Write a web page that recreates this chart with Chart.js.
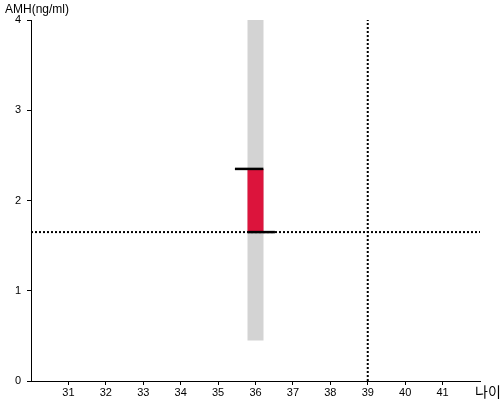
<!DOCTYPE html>
<html>
<head>
<meta charset="utf-8">
<script src="https://cdn.jsdelivr.net/npm/chart.js@4/dist/chart.umd.min.js"></script>
<style>
html,body{margin:0;padding:0;background:#fff;}
#wrap{width:500px;height:400px;position:relative;}
</style>
</head>
<body>
<div id="wrap"><canvas id="c" width="500" height="400"></canvas></div>
<script>
// Data
const ageCenter = 36;
const rangeLow = 0.45;      // gray normal range bottom
const rangeHigh = 4;        // gray normal range top
const amhValue = 2.35;      // measured AMH
const refValue = 1.65;      // reference AMH (horizontal dotted line)
const refAge = 39;          // reference age (vertical dotted line)
const topMarkX = [35.45, 36.21];
const bottomMarkX = [35.79, 36.52];
const xTicks = [31, 32, 33, 34, 35, 36, 37, 38, 39, 40, 41];
const yTicks = [0, 1, 2, 3, 4];
const xTitle = '나이';
const yTitle = 'AMH(ng/ml)';

const labelPlugin = {
  id: 'titles',
  afterDraw(chart) {
    const ctx = chart.ctx;
    ctx.save();
    ctx.fillStyle = '#000';
    ctx.font = '12px "Liberation Sans", Arial, sans-serif';
    ctx.textBaseline = 'middle';
    ctx.textAlign = 'left';
    ctx.fillText(yTitle, 5, 10);
    ctx.font = '14px "Noto Sans CJK KR", sans-serif';
    ctx.fillText(xTitle, 475, 392);
    ctx.restore();
  }
};

const lineDs = (data, color, width, dash, order) => ({
  type: 'line', data, borderColor: color, borderWidth: width, borderDash: dash || [],
  borderCapStyle: 'butt', pointRadius: 0, fill: false, tension: 0, order
});

new Chart(document.getElementById('c'), {
  type: 'line',
  data: {
    datasets: [
      lineDs([{x: ageCenter, y: rangeLow}, {x: ageCenter, y: rangeHigh}], '#d3d3d3', 16, null, 5),
      lineDs([{x: ageCenter, y: refValue}, {x: ageCenter, y: amhValue}], '#dc143c', 16, null, 4),
      lineDs([{x: 30, y: refValue}, {x: 42, y: refValue}], '#000', 2, [2, 2], 3),
      lineDs([{x: refAge, y: 0}, {x: refAge, y: 4}], '#000', 2, [2, 2], 3),
      lineDs([{x: topMarkX[0], y: amhValue}, {x: topMarkX[1], y: amhValue}], '#000', 2.5, null, 1),
      lineDs([{x: bottomMarkX[0], y: refValue}, {x: bottomMarkX[1], y: refValue}], '#000', 2.5, null, 1)
    ]
  },
  options: {
    responsive: false,
    animation: false,
    layout: {padding: {top: 20, right: 20, left: 0, bottom: 0}},
    plugins: {legend: {display: false}, tooltip: {enabled: false}},
    scales: {
      x: {
        type: 'linear', min: 30, max: 42,
        afterBuildTicks(s) { s.ticks = xTicks.map(v => ({value: v})); },
        afterFit(s) { s.height = 19; },
        grid: {drawOnChartArea: false, drawTicks: true, tickLength: 4, color: '#000'},
        border: {color: '#000', width: 1},
        ticks: {color: '#000', font: {size: 11, family: '"Liberation Sans", Arial'}, padding: 1, maxRotation: 0, autoSkip: false}
      },
      y: {
        type: 'linear', min: 0, max: 4,
        afterBuildTicks(s) { s.ticks = yTicks.map(v => ({value: v})); },
        afterFit(s) { s.width = 31; },
        grid: {drawOnChartArea: false, drawTicks: true, tickLength: 4, color: '#000'},
        border: {color: '#000', width: 1},
        ticks: {color: '#000', font: {size: 11, family: '"Liberation Sans", Arial'}, padding: 6}
      }
    }
  },
  plugins: [labelPlugin]
});
</script>
</body>
</html>
